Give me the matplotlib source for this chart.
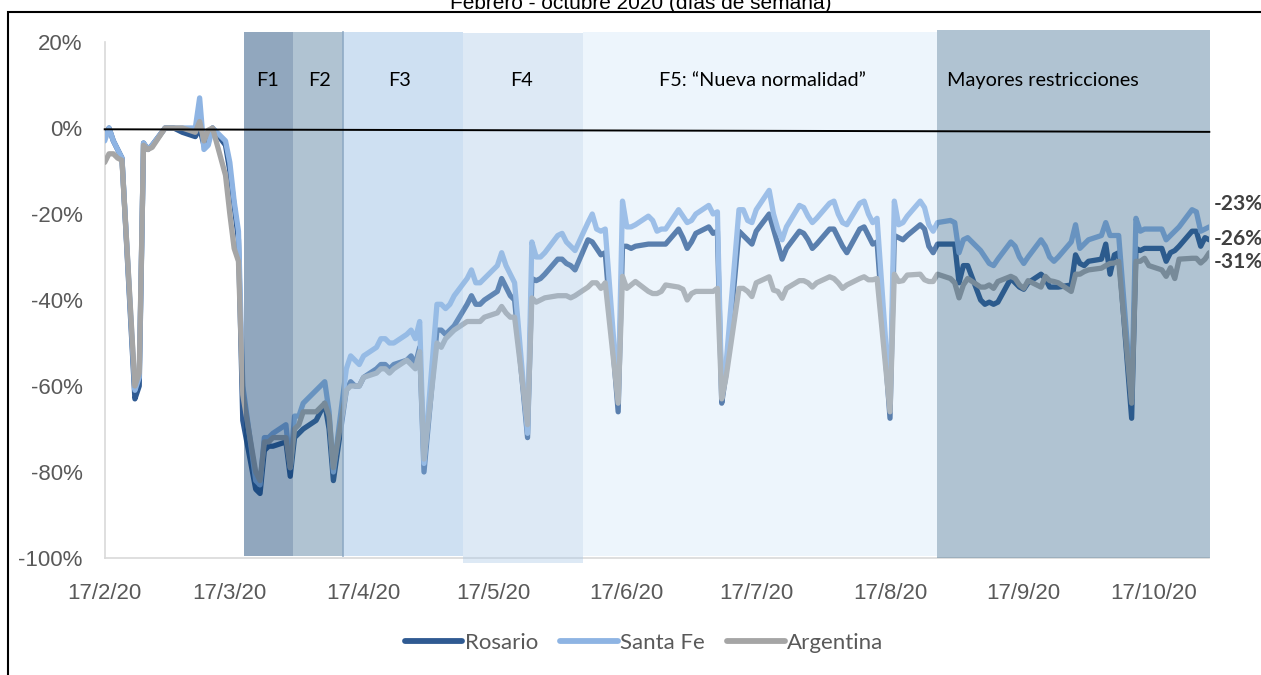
import matplotlib
matplotlib.use("Agg")
import matplotlib.pyplot as plt
import matplotlib.dates as mdates
from matplotlib.patches import Rectangle
import pandas as pd

# weekdays only, 17/2/20 .. 30/10/20
dates = pd.bdate_range("2020-02-17", "2020-10-30")

rosario = [
    -2, 0, -3, -5, -7,
    -63, -60, -3.5, -5, -4,
    0, 0, 0, -0.5, -1,
    -2, 0, -4, -3, 0,
    -4, -10, -18, -26, -68,
    -84, -85, -75, -74, -74,
    -73, -81, -72, -71, -70,
    -68, -66, -64, -70, -82,
    -61, -59, -60, -60, -58,
    -56, -55, -55, -56, -55,
    -54, -53, -55, -51, -80,
    -47, -47, -48, -47, -46,
    -41, -39, -41, -41, -40,
    -38, -35, -37, -39, -40,
    -72, -35, -35.5, -35, -34,
    -30.5, -30.5, -31.5, -32, -33,
    -26, -26.5, -28, -29.5, -29,
    -66, -27.5, -27.5, -28, -27.5,
    -27, -27, -27, -27, -27,
    -23.5, -25.5, -28, -26.5, -24.5,
    -23, -24.5, -24, -64, -57,
    -24, -25, -26, -27, -24,
    -20, -23.5, -27, -30.5, -28,
    -24, -24.5, -26, -28, -27,
    -23.5, -23.5, -25.5, -27.5, -29,
    -23.5, -23, -25, -27, -26.5,
    -67.5, -25, -25.5, -26, -25,
    -22.5, -23.5, -27.5, -29, -27,
    -27, -27, -36, -32, -32,
    -40, -41, -40.5, -41, -40.5,
    -35, -36, -37, -37.5, -36,
    -34, -35, -37, -37, -37,
    -36.5, -29.5, -31.5, -32, -31,
    -30.5, -27, -34, -29.5, -29,
    -67.5, -28, -28.5, -28, -28,
    -28, -31, -29, -28.5, -27.5,
    -24, -24, -27.5, -25.5, -26,
]

santa_fe = [
    -3, 0, -3, -5, -7,
    -61, -58, -3.5, -5, -4,
    0, 0, 0, 0, 0,
    0, 7, -5, -4, 0,
    -3, -8, -17, -24, -60,
    -82, -83, -72, -72, -71,
    -69, -79, -67, -67, -64,
    -61, -60, -59, -66, -80,
    -56, -53, -54, -55, -53,
    -51, -49, -49, -50, -50,
    -48, -47, -49, -45, -78,
    -41, -41, -42, -41, -39,
    -35, -33, -36, -36, -35,
    -32, -29, -32, -34, -36,
    -71, -26.5, -30, -30, -29,
    -25, -24.5, -26.5, -27.5, -28.5,
    -22, -20, -23.5, -24, -23.5,
    -63, -17, -23, -23, -22.5,
    -20.5, -21.5, -24, -23.5, -23.5,
    -19, -20.5, -22, -21.5, -20,
    -18, -20, -19.5, -62, -55,
    -19, -19, -21.5, -22, -19,
    -14.5, -20, -23.5, -26, -23,
    -18, -18.5, -20.5, -22, -21,
    -17.5, -17, -20, -22, -22.5,
    -17.5, -17, -20, -22, -21,
    -64, -17, -22.5, -22, -20.5,
    -17, -18.5, -22.5, -24, -22,
    -21.5, -22, -29, -26, -25.5,
    -28.5, -30, -31.5, -32, -30.5,
    -26.5, -27.5, -30, -31.5, -30,
    -26, -27.5, -30, -31, -30,
    -26.5, -22.5, -28, -27, -26,
    -25, -22, -25, -25, -25,
    -63, -21, -24, -23.5, -23.5,
    -23.5, -26, -25, -24, -23,
    -19, -19.5, -24, -23.5, -23,
]

argentina = [
    -8, -6, -6, -7, -7.5,
    -60, -57, -4, -5, -4.5,
    0, 0, 0, 0, 0,
    -1, 1.5, -3, -0.5, 0,
    -11, -20, -28, -31, -62,
    -80, -82, -73, -73, -72,
    -72, -79, -70, -69, -66,
    -66, -65, -64, -67, -79,
    -61, -60, -60, -60, -58,
    -57, -56, -56, -57, -56,
    -54, -55, -56, -52, -77,
    -50, -51, -49, -48, -47,
    -45, -45, -45, -45, -44,
    -43, -41.5, -43, -44, -44,
    -69, -39.5, -40.5, -40, -39.5,
    -39, -39, -39, -39.5, -39,
    -37, -36, -36, -37.3, -36,
    -64, -34.5, -37.3, -36.5, -35.7,
    -38, -38.5, -38.5, -38, -36.5,
    -37, -37.5, -40, -38.5, -38,
    -38, -38, -37.3, -63, -58,
    -37.3, -37.3, -38, -39.2, -36,
    -34.6, -37.7, -38, -39.6, -37.3,
    -35.5, -35.5, -36, -37, -36,
    -34.6, -35, -36, -37.3, -36.5,
    -35, -34.6, -35.3, -35.3, -35,
    -66, -34, -35.7, -35.5, -34.2,
    -34, -35.3, -35.7, -35.7, -34,
    -35, -36, -39.5, -36.5, -35,
    -37, -37, -36.5, -37.3, -35.7,
    -34.5, -35, -36.5, -37.3, -35.5,
    -37, -34.5, -35.5, -35.7, -36,
    -38, -34, -34, -33.4, -33,
    -32.6, -32, -31.5, -31.4, -31,
    -64, -31, -31, -30.3, -32,
    -33, -34.5, -32.5, -35, -30.5,
    -30.3, -30.3, -31.4, -30.5, -29,
]

series_names = ["Rosario", "Santa Fe", "Argentina"]
series_colors = ["#2F5A92", "#8EB4E3", "#A5A5A5"]
end_labels = ["-26%", "-23%", "-31%"]
end_label_y = [-25.8, -17.7, -31.2]

tick_dates = ["2020-02-17", "2020-03-17", "2020-04-17", "2020-05-17", "2020-06-17",
              "2020-07-17", "2020-08-17", "2020-09-17", "2020-10-17"]
tick_labels = ["17/2/20", "17/3/20", "17/4/20", "17/5/20", "17/6/20",
               "17/7/20", "17/8/20", "17/9/20", "17/10/20"]
y_ticks = [20, 0, -20, -40, -60, -80, -100]

# phase name, start, end
phases = [
    ("F1", "2020-03-20 07:00", "2020-03-31 14:00"),
    ("F2", "2020-03-31 14:00", "2020-04-12 05:00"),
    ("F3", "2020-04-12 05:00", "2020-05-10 00:00"),
    ("F4", "2020-05-10 00:00", "2020-06-06 19:00"),
    ("F5: \u201cNueva normalidad\u201d", "2020-06-06 19:00", "2020-08-27 22:00"),
    ("Mayores restricciones", "2020-08-27 22:00", "2020-10-30 06:00"),
]
# overlay colour, alpha, top/bottom (in %)
phase_styles = [
    ("#0B3C6F", 0.45, 22.3, -99.5),
    ("#295D85", 0.37, 22.3, -99.5),
    ("#9FC3E7", 0.50, 22.3, -99.5),
    ("#ACCAE8", 0.40, 22.0, -101.2),
    ("#C4DDF5", 0.29, 22.3, -99.5),
    ("#295D85", 0.37, 22.8, -100.0),
]

tick_font = "Liberation Sans"
label_font = "Lato"

W, H = 1261, 675
fig = plt.figure(figsize=(W / 100, H / 100), dpi=100)
ax = fig.add_axes([104.7 / W, 1 - 558 / H, 1104.6 / W, 516 / H])

x = mdates.date2num(dates)
for values, name, color in zip([rosario, santa_fe, argentina], series_names, series_colors):
    ax.plot(x, values, color=color, lw=3.8, label=name, zorder=2,
            solid_joinstyle="round", solid_capstyle="round")

x0 = mdates.date2num(pd.Timestamp("2020-02-17"))
x1 = mdates.date2num(pd.Timestamp("2020-10-30"))
ax.set_xlim(x0, x1)
ax.set_ylim(-100, 20)

for (name, start, end), (color, alpha, top, bottom) in zip(phases, phase_styles):
    s = mdates.date2num(pd.Timestamp(start))
    e = mdates.date2num(pd.Timestamp(end))
    ax.add_patch(Rectangle((s, bottom), e - s, top - bottom, facecolor=color, alpha=alpha,
                           edgecolor="none", zorder=3, clip_on=False))

# thin border at the start of F3
f3 = mdates.date2num(pd.Timestamp(phases[2][1]))
ax.plot([f3, f3], [-99.5, 22.3], color="#8FAAC5", lw=1.2, zorder=3, clip_on=False)

# zero reference line
ax.plot([x0, x1], [-0.3, -0.9], color="black", lw=1.4, zorder=4, clip_on=False)

# phase labels (x in pixels of the plot area)
label_px = [268, 320, 400, 521, 762, 1043]
for (name, _, _), px in zip(phases, label_px):
    ax.text((px - 104.7) / 1104.6, 11.0, name, transform=ax.get_yaxis_transform(),
            ha="center", va="center", fontsize=14.3, family=label_font, color="black", zorder=5)

for lab, yv in zip(end_labels, end_label_y):
    ax.text(1 + 4 / 1104.6, yv, lab, transform=ax.get_yaxis_transform(), ha="left", va="center",
            fontsize=15, fontweight="bold", family=label_font, color="#404040", zorder=5,
            clip_on=False)

ax.set_xticks(mdates.date2num(pd.to_datetime(tick_dates)))
ax.set_xticklabels(tick_labels, family=tick_font, fontsize=16, color="#595959")
ax.set_yticks(y_ticks)
ax.set_yticklabels([f"{v}%" for v in y_ticks], family=tick_font, fontsize=16, color="#595959")
ax.tick_params(axis="x", length=0, pad=18)
ax.tick_params(axis="y", length=0, pad=16)

for side in ("top", "right"):
    ax.spines[side].set_visible(False)
for side in ("left", "bottom"):
    ax.spines[side].set_color("#D9D9D9")
    ax.spines[side].set_linewidth(1.2)
    ax.spines[side].set_zorder(1)

handles, labels = ax.get_legend_handles_labels()
leg = fig.legend(handles, labels, loc="center", bbox_to_anchor=(644 / W, 1 - 643 / H), ncol=3,
                 frameon=False, handlelength=2.6, handletextpad=0.1, columnspacing=1.0,
                 prop={"family": label_font, "size": 16})
for t in leg.get_texts():
    t.set_color("#595959")
for ln in leg.get_lines():
    ln.set_solid_capstyle("round")
    ln.set_linewidth(4.2)

fig.text(641 / W, 1 - 9 / H, "Febrero - octubre 2020 (d\u00edas de semana)", ha="center",
         va="baseline", fontsize=15, family="Liberation Sans", color="black")

# outer frame
fig.add_artist(Rectangle((8 / W, -0.05), 1.2, 1 - 12 / H + 0.05, transform=fig.transFigure,
                         fill=False, edgecolor="black", lw=1.5))

fig.savefig("out.png", dpi=100)
